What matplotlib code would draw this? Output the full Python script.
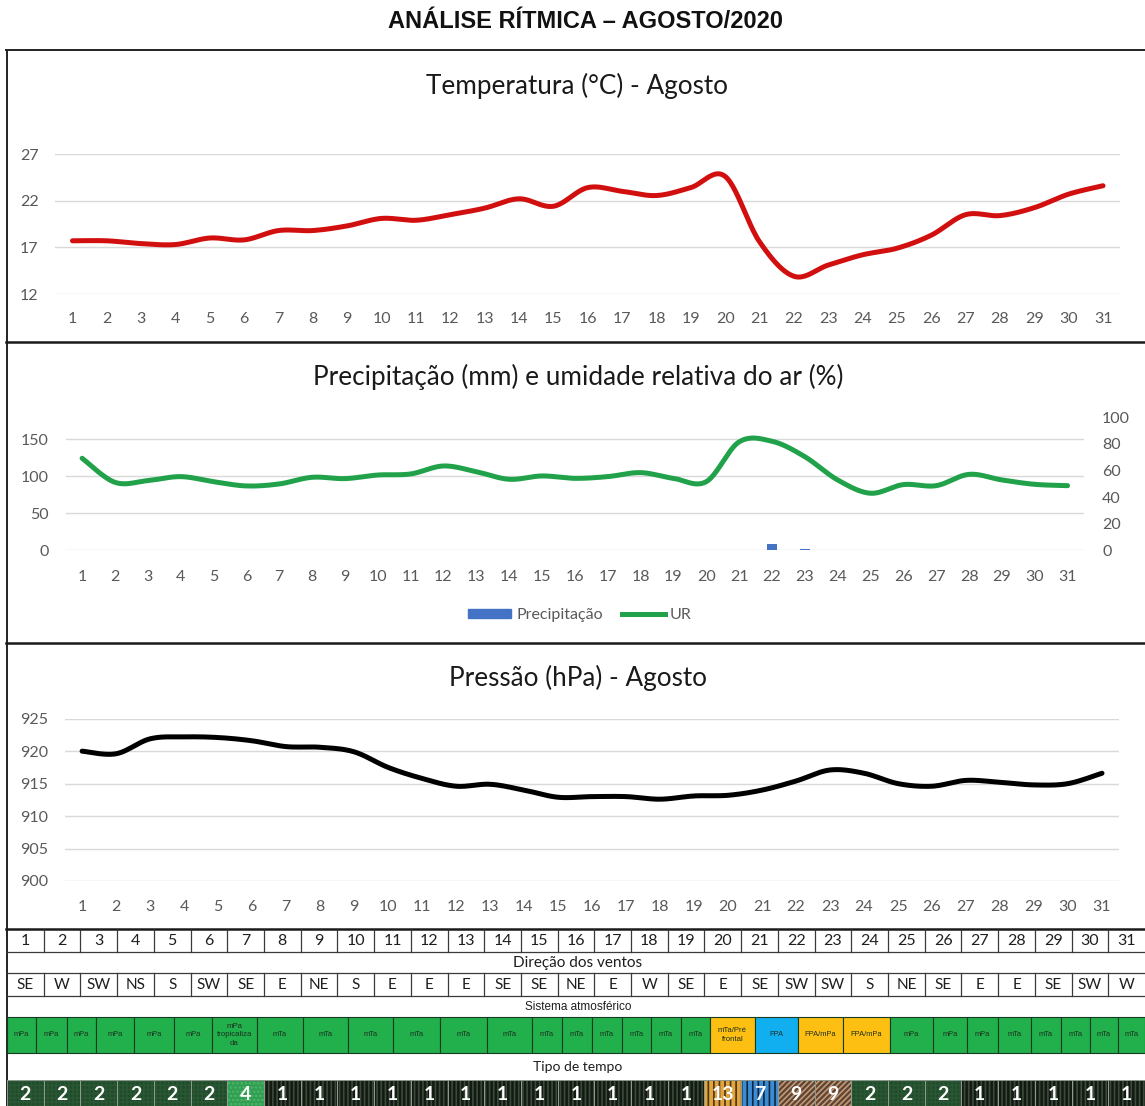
import numpy as np
import matplotlib
matplotlib.use("Agg")
import matplotlib.pyplot as plt
from matplotlib.patches import Rectangle
from matplotlib.lines import Line2D

# ---------------- data ----------------
dias = list(range(1, 32))
temperatura = [17.7, 17.7, 17.4, 17.3, 18.0, 17.8, 18.8, 18.8, 19.3, 20.1, 19.9,
               20.5, 21.2, 22.2, 21.4, 23.4, 23.0, 22.55, 23.4, 24.6, 17.6, 13.9,
               15.1, 16.2, 16.9, 18.3, 20.5, 20.4, 21.25, 22.7, 23.6]
umidade = [69.2, 51.1, 52.4, 55.4, 51.6, 48.4, 49.9, 54.9, 53.9, 56.6, 57.4,
           63.4, 59.1, 53.4, 55.9, 54.1, 55.4, 58.4, 54.1, 51.6, 81.5, 82.0,
           70.4, 52.9, 42.9, 49.4, 48.6, 57.1, 52.9, 49.6, 48.6]
precipitacao = [0, 0, 0, 0, 0, 0, 0, 0, 0, 0, 0, 0, 0, 0, 0, 0, 0, 0, 0, 0, 0,
                8, 2, 0, 0, 0, 0, 0, 0, 0, 0]
pressao = [920.0, 919.6, 921.9, 922.2, 922.1, 921.6, 920.7, 920.6, 919.9, 917.5,
           915.8, 914.6, 914.9, 914.0, 912.9, 913.0, 913.0, 912.6, 913.1, 913.2,
           914.0, 915.4, 917.1, 916.6, 915.0, 914.6, 915.5, 915.2, 914.8, 915.0,
           916.6]
ventos = ["SE", "W", "SW", "NS", "S", "SW", "SE", "E", "NE", "S", "E", "E", "E",
          "SE", "SE", "NE", "E", "W", "SE", "E", "SE", "SW", "SW", "S", "NE", "SE",
          "E", "E", "SE", "SW", "W"]
sistemas = ["mPa"] * 6 + ["mPa\ntropicaliza\nda"] + ["mTa"] * 12 + \
           ["mTa/Pré\nfrontal", "FPA", "FPA/mPa", "FPA/mPa"] + ["mPa"] * 3 + ["mTa"] * 5
tipo_tempo = [2, 2, 2, 2, 2, 2, 4, 1, 1, 1, 1, 1, 1, 1, 1, 1, 1, 1, 1, 13, 7, 9, 9,
              2, 2, 2, 1, 1, 1, 1, 1]

# ---------------- layout / style ----------------
W, H = 1145, 1106
FONT = "Lato"
ARIAL = "Liberation Sans"
TICKC = "#595959"
GRIDC = "#d9d9d9"
TICKFS = 11.5
TITLEFS = 18.8
# irregular cell edges of the "Sistema atmosférico" row (pixels)
sist_edges = [7, 36, 67, 96, 134, 174, 212, 257, 303, 348, 393, 440, 487, 532, 562,
              592, 622, 651, 681, 710, 755, 798, 843, 890, 933, 967, 998, 1031,
              1061, 1090, 1118, 1145]
sist_colors = {"FPA": "#12aff0", "FPA/mPa": "#fdc012", "mTa/Pré\nfrontal": "#fdc012"}
tipo_style = {
    1: dict(fc="#121a12", hc="#3b4a3b", hatch="||||"),
    2: dict(fc="#214a2b", hc="#2a5733", hatch="++++"),
    4: dict(fc="#2f9e50", hc="#4fb56a", hatch="...."),
    13: dict(fc="#e2a43c", hc="#4a3417", hatch="|||"),
    7: dict(fc="#3a8dd2", hc="#0f2440", hatch="|||"),
    9: dict(fc="#5e4434", hc="#c29a76", hatch="//////"),
}

plt.rcParams["font.family"] = [FONT, "DejaVu Sans"]
plt.rcParams["hatch.linewidth"] = 1.2

fig = plt.figure(figsize=(W / 100, H / 100), dpi=100)


def px_axes(x0, x1, ytop, ybot, **kw):
    return fig.add_axes([x0 / W, 1 - ybot / H, (x1 - x0) / W, (ybot - ytop) / H], **kw)


def smooth(x, y, n=24):
    P = np.column_stack([np.asarray(x, float), np.asarray(y, float)])
    out = []
    N = len(P)
    for i in range(N - 1):
        p0 = P[max(i - 1, 0)]
        p1 = P[i]
        p2 = P[i + 1]
        p3 = P[min(i + 2, N - 1)]
        c1 = p1 + (p2 - p0) / 6.0
        c2 = p2 - (p3 - p1) / 6.0
        t = np.linspace(0, 1, n)[:, None]
        seg = ((1 - t) ** 3) * p1 + 3 * ((1 - t) ** 2) * t * c1 + 3 * (1 - t) * t ** 2 * c2 + t ** 3 * p2
        out.append(seg if i == 0 else seg[1:])
    S = np.vstack(out)
    return S[:, 0], S[:, 1]


def style_axes(ax, yt, pad_x=12, pad_y=12):
    ax.set_facecolor("none")
    for s in ax.spines.values():
        s.set_visible(False)
    ax.set_xlim(0.5, 31.5)
    ax.set_xticks(dias)
    ax.set_xticklabels([str(d) for d in dias])
    ax.set_yticks(yt)
    ax.tick_params(axis="both", length=0, labelsize=TICKFS, labelcolor=TICKC)
    ax.tick_params(axis="x", pad=pad_x)
    ax.tick_params(axis="y", pad=pad_y)
    ax.grid(axis="y", color=GRIDC, lw=1.0)
    ax.grid(axis="x", visible=False)
    ax.set_axisbelow(True)


# ---------------- overlay (borders + table) ----------------
ov = fig.add_axes([0, 0, 1, 1], zorder=0)
ov.set_xlim(0, W)
ov.set_ylim(H, 0)
ov.axis("off")

fig.text(586 / W, 1 - 21 / H, "ANÁLISE RÍTMICA – AGOSTO/2020", ha="center", va="center",
         fontsize=17, fontweight="bold", family=ARIAL, color="#111111")

# panel borders
ov.plot([6, W], [50, 50], color="#222222", lw=1.4)
ov.plot([6.5, 6.5], [50, H], color="#222222", lw=1.4)
for yb in (342, 643, 929):
    ov.plot([6, W], [yb, yb], color="#1a1a1a", lw=1.8)

# ---------------- panel 1: temperature ----------------
ax1 = px_axes(55.3, 1120.2, 154, 294, zorder=2)
style_axes(ax1, [12, 17, 22, 27], pad_x=13, pad_y=12)
ax1.set_ylim(12, 27)
sx, sy = smooth(dias, temperatura)
ax1.plot(sx, sy, color="#d20f0f", lw=3.6, solid_capstyle="round")
fig.text(577 / W, 1 - 86 / H, "Temperatura (°C) - Agosto", ha="center", va="center",
         fontsize=TITLEFS, color="#1a1a1a")

# ---------------- panel 2: precipitation + RH ----------------
ax2 = px_axes(65.7, 1084, 417.3, 550.3, zorder=2)
style_axes(ax2, [0, 50, 100, 150], pad_x=14.5, pad_y=12)
ax2.set_ylim(0, 180)
ax2.bar(dias, precipitacao, width=0.32, color="#4472c4", zorder=3)
ax2r = ax2.twinx()
ax2r.set_zorder(3)
ax2r.set_facecolor("none")
for s in ax2r.spines.values():
    s.set_visible(False)
ax2r.set_ylim(0, 100)
ax2r.set_yticks([0, 20, 40, 60, 80, 100])
ax2r.tick_params(axis="y", length=0, labelsize=TICKFS, labelcolor=TICKC, pad=13)
ux, uy = smooth(dias, umidade)
ax2r.plot(ux, uy, color="#21a24a", lw=3.6, solid_capstyle="round")
fig.text(578 / W, 1 - 377 / H, "Precipitação (mm) e umidade relativa do ar (%)",
         ha="center", va="center", fontsize=TITLEFS, color="#1a1a1a")
handles = [Rectangle((0, 0), 1, 1, color="#4472c4"),
           Line2D([0], [0], color="#21a24a", lw=3.6)]
fig.legend(handles, ["Precipitação", "UR"], loc="center",
           bbox_to_anchor=(580 / W, 1 - 615 / H), ncol=2, frameon=False,
           fontsize=TICKFS, labelcolor=TICKC, handlelength=2.7, handleheight=0.5,
           handletextpad=0.3, columnspacing=1.2)

# ---------------- panel 3: pressure ----------------
ax3 = px_axes(65.1, 1119, 718.7, 881, zorder=2)
style_axes(ax3, [900, 905, 910, 915, 920, 925], pad_x=13.5, pad_y=12)
ax3.set_ylim(900, 925)
px_, py_ = smooth(dias, pressao)
ax3.plot(px_, py_, color="#000000", lw=3.6, solid_capstyle="round")
fig.text(578 / W, 1 - 678 / H, "Pressão (hPa) - Agosto", ha="center", va="center",
         fontsize=TITLEFS, color="#1a1a1a")

# ---------------- table ----------------
TX0 = 7
CW = (W - TX0) / 31.0
LINEC = "#3a3a3a"
y_day = (930, 951.7)
y_dir = (951.7, 973.3)
y_wind = (973.3, 995.7)
y_sistl = (995.7, 1016.7)
y_sist = (1016.7, 1053.3)
y_tipol = (1053.3, 1080)
y_tipo = (1080, 1108)

for yy in (y_day[1], y_wind[0], y_wind[1]):
    ov.plot([TX0, W], [yy, yy], color=LINEC, lw=0.9)

for i, d in enumerate(dias):
    x0 = TX0 + i * CW
    xc = x0 + CW / 2
    if i > 0:
        ov.plot([x0, x0], [y_day[0], y_day[1]], color=LINEC, lw=0.9)
        ov.plot([x0, x0], [y_wind[0], y_wind[1]], color=LINEC, lw=0.9)
    ov.text(xc, sum(y_day) / 2 + 0.5, str(d), ha="center", va="center",
            fontsize=11.5, color="#1e1e1e")
    ov.text(xc, sum(y_wind) / 2 + 0.5, ventos[i], ha="center", va="center",
            fontsize=11, color="#1e1e1e")
    # tipo de tempo
    st = tipo_style[tipo_tempo[i]]
    ov.add_patch(Rectangle((x0, y_tipo[0]), CW, y_tipo[1] - y_tipo[0],
                           facecolor=st["fc"], edgecolor=st["hc"], hatch=st["hatch"],
                           lw=0, zorder=2))
    ov.add_patch(Rectangle((x0, y_tipo[0]), CW, y_tipo[1] - y_tipo[0],
                           facecolor="none", edgecolor="#8f9a8f", lw=0.7, zorder=3))
    ov.text(xc, 1094, str(tipo_tempo[i]), ha="center", va="center", fontsize=14,
            fontweight="bold", color="white", zorder=4)

ov.text(578, sum(y_dir) / 2 + 0.5, "Direção dos ventos", ha="center", va="center",
        fontsize=11, color="#1e1e1e")
ov.text(578, sum(y_sistl) / 2 + 0.5, "Sistema atmosférico", ha="center", va="center",
        fontsize=8.5, family=ARIAL, color="#1e1e1e")
ov.text(578, sum(y_tipol) / 2, "Tipo de tempo", ha="center", va="center",
        fontsize=10, color="#1e1e1e")

for i, s in enumerate(sistemas):
    x0, x1 = sist_edges[i], sist_edges[i + 1]
    fc = sist_colors.get(s, "#22b04c")
    ov.add_patch(Rectangle((x0, y_sist[0]), x1 - x0, y_sist[1] - y_sist[0],
                           facecolor=fc, edgecolor="#173a22", lw=0.8, zorder=2))
    fs = 5.4 if "\n" not in s else 5.6
    ov.text((x0 + x1) / 2, sum(y_sist) / 2, s, ha="center", va="center",
            fontsize=fs, family=ARIAL, color="#1d2e20", linespacing=1.3, zorder=3)

fig.savefig("out.png", dpi=100)
